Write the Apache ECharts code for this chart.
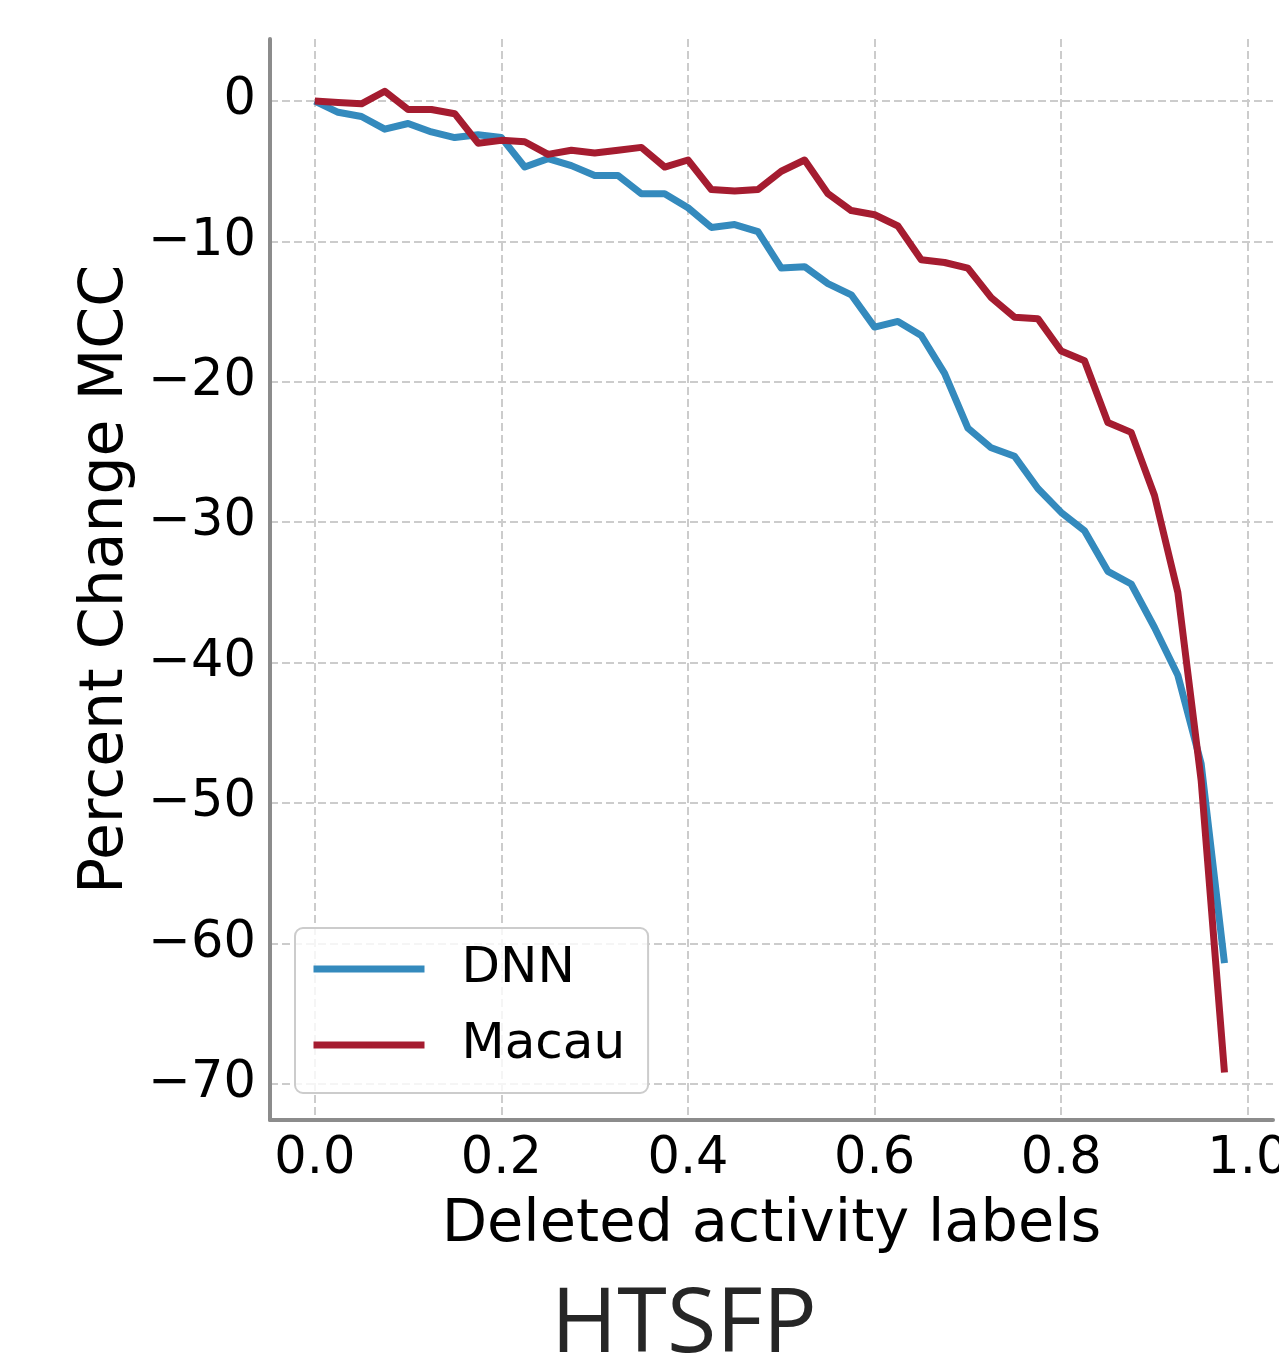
<!DOCTYPE html>
<html>
<head>
<meta charset="utf-8">
<script src="https://cdn.jsdelivr.net/npm/echarts@6/dist/echarts.min.js"></script>
<style>
    html, body { margin: 0; padding: 0; background: #ffffff; }
    #chart { width: 1279px; height: 1358px; }
</style>
</head>
<body>
<div id="chart"></div>
<script>
// fraction of deleted activity labels
const deletedFraction = [
    0.000, 0.025, 0.050, 0.075, 0.100, 0.125, 0.150, 0.175, 0.200, 0.225,
    0.250, 0.275, 0.300, 0.325, 0.350, 0.375, 0.400, 0.425, 0.450, 0.475,
    0.500, 0.525, 0.550, 0.575, 0.600, 0.625, 0.650, 0.675, 0.700, 0.725,
    0.750, 0.775, 0.800, 0.825, 0.850, 0.875, 0.900, 0.925, 0.950, 0.975
];

const dnnChange = [
    0.0, -0.8, -1.1, -2.0, -1.6, -2.2, -2.6, -2.4, -2.6, -4.7,
    -4.1, -4.6, -5.3, -5.3, -6.6, -6.6, -7.6, -9.0, -8.8, -9.3,
    -11.9, -11.8, -13.0, -13.8, -16.1, -15.7, -16.7, -19.4, -23.3, -24.7,
    -25.3, -27.6, -29.3, -30.6, -33.5, -34.4, -37.5, -40.9, -47.2, -61.4
];

const macauChange = [
    0.0, -0.1, -0.2, 0.7, -0.6, -0.6, -0.9, -3.0, -2.8, -2.9,
    -3.8, -3.5, -3.7, -3.5, -3.3, -4.7, -4.2, -6.3, -6.4, -6.3,
    -5.0, -4.2, -6.6, -7.8, -8.1, -8.9, -11.3, -11.5, -11.9, -14.0,
    -15.4, -15.5, -17.8, -18.5, -22.9, -23.6, -28.1, -35.0, -48.4, -69.2
];

const xTicks = [0.0, 0.2, 0.4, 0.6, 0.8, 1.0];
const yTicks = [0, -10, -20, -30, -40, -50, -60, -70];

const FONT = "DejaVu Sans";
const gridLine = { show: true, lineStyle: { color: "#cccccc", width: 2, type: [8, 4] } };

function pairs(xs, ys) {
    return xs.map((x, i) => [x, ys[i]]);
}

function lineSeries(name, color, values) {
    return {
        name: name,
        type: "line",
        data: pairs(deletedFraction, values),
        symbol: "none",
        lineStyle: { color: color, width: 7, join: "round" },
        itemStyle: { color: color },
        animation: false
    };
}

const chart = echarts.init(document.getElementById("chart"), null, { renderer: "canvas" });

chart.setOption({
    animation: false,
    backgroundColor: "#ffffff",
    title: {
        text: "HTSFP",
        left: 551,
        top: 1281,
        padding: 0,
        textStyle: { fontFamily: "Open Sans", fontSize: 90, fontWeight: "normal", color: "#262626" }
    },
    grid: { left: 270, right: 6, top: 39, bottom: 238, containLabel: false, outerBoundsMode: "none" },
    legend: {
        orient: "vertical",
        left: 295,
        top: 928,
        padding: [13, 23, 20, 15],
        itemWidth: 111,
        itemHeight: 7,
        itemGap: 20,
        lineStyle: { width: 7 },
        backgroundColor: "rgba(255,255,255,0.8)",
        borderColor: "#cccccc",
        borderWidth: 2,
        borderRadius: 8,
        textStyle: { fontFamily: FONT, fontSize: 50, color: "#000000", lineHeight: 56, padding: [0, 0, 0, 32] },
        data: ["DNN", "Macau"]
    },
    xAxis: {
        type: "value",
        min: -0.048,
        max: 1.027,
        name: "Deleted activity labels",
        nameLocation: "middle",
        nameGap: 76,
        nameTextStyle: { fontFamily: FONT, fontSize: 59, color: "#000000" },
        axisLine: { show: true, onZero: false, lineStyle: { color: "#8c8c8c", width: 4 } },
        axisTick: { show: false, customValues: xTicks },
        axisLabel: {
            customValues: xTicks,
            margin: 14,
            fontFamily: FONT, fontSize: 51, color: "#000000",
            formatter: (v) => v.toFixed(1)
        },
        splitLine: gridLine
    },
    yAxis: {
        type: "value",
        min: -72.58,
        max: 4.42,
        name: "Percent Change MCC",
        nameLocation: "middle",
        nameGap: 134,
        nameTextStyle: { fontFamily: FONT, fontSize: 60, color: "#000000" },
        axisLine: { show: true, onZero: false, lineStyle: { color: "#8c8c8c", width: 4 } },
        axisTick: { show: false, customValues: yTicks },
        axisLabel: {
            customValues: yTicks,
            margin: 14,
            fontFamily: FONT, fontSize: 51, color: "#000000",
            formatter: (v) => (v < 0 ? "\u2212" + Math.abs(v) : String(v))
        },
        splitLine: gridLine
    },
    series: [
        lineSeries("DNN", "#348ABD", dnnChange),
        lineSeries("Macau", "#A51C30", macauChange)
    ]
});
</script>
</body>
</html>
